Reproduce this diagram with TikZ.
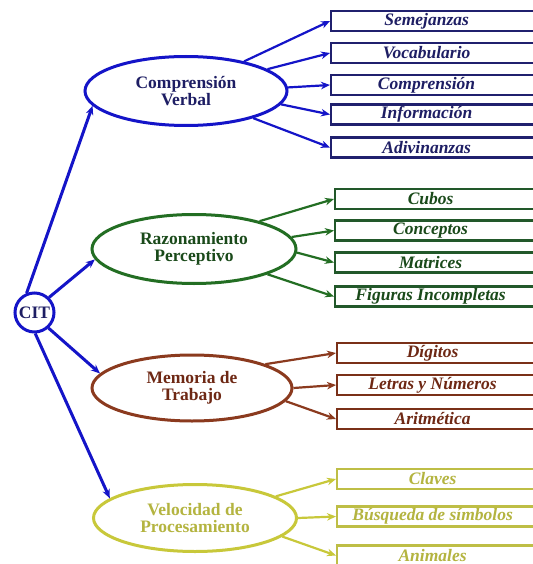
\documentclass[tikz,border=0pt]{standalone}
\usepackage{fontspec}
\setmainfont{Liberation Serif}
\usepackage{xcolor}
\usepackage{tikz}
\usetikzlibrary{positioning,shapes.geometric,arrows.meta}
\definecolor{cvblue}{HTML}{1414C8}
\definecolor{cvink}{HTML}{1E1E64}
\definecolor{cvframe}{HTML}{20206E}
\definecolor{rpgreen}{HTML}{236E23}
\definecolor{rpink}{HTML}{1A4A1A}
\definecolor{rpframe}{HTML}{22582A}
\definecolor{mtbrown}{HTML}{8B3A1E}
\definecolor{mtink}{HTML}{6E2814}
\definecolor{mtframe}{HTML}{7A3018}
\definecolor{vpyellow}{HTML}{C8C83A}
\definecolor{vpink}{HTML}{B4B440}
\definecolor{vpframe}{HTML}{BEBE46}

\begin{document}
\begin{tikzpicture}[
  x=1pt, y=-1pt,
  >={Stealth[length=9pt,width=7.5pt]},
  hub/.style    = {circle, draw=cvblue, line width=3pt, fill=white, minimum size=39pt,
                   inner sep=0pt, text=cvink, font=\fontsize{17.5}{18}\selectfont\bfseries},
  area/.style   = {ellipse, line width=3pt, fill=white, align=center, inner sep=0pt,
                   font=\fontsize{17.5}{17.5}\selectfont\bfseries},
  test/.style   = {rectangle, line width=2.2pt, fill=white, anchor=west, inner sep=0pt,
                   minimum height=20pt, minimum width=215pt,
                   font=\fontsize{17.5}{18}\selectfont\bfseries\itshape,
                   execute at begin node={\hspace*{-24pt}}},
  link/.style   = {->, draw=cvblue, line width=3pt},
  branch/.style = {->, line width=2.2pt},
]
\useasboundingbox[fill=white] (0,0) rectangle (532,564);

% ---- hub --------------------------------------------------------------
\node[hub] (cit) at (34.5,312.5) {CIT};

% ---- areas ------------------------------------------------------------
\node[area, draw=cvblue, text=cvink, minimum width=202pt, minimum height=69pt]
  (cv) at (186,91) {Comprensión\\Verbal};
\node[area, draw=rpgreen, text=rpink, minimum width=204pt, minimum height=69pt]
  (rp) at (194,249) {Razonamiento\\Perceptivo};
\node[area, draw=mtbrown, text=mtink, minimum width=200pt, minimum height=66pt]
  (mt) at (192,388) {Memoria de\\Trabajo};
\node[area, draw=vpyellow, text=vpink, minimum width=203pt, minimum height=67pt]
  (vp) at (195,518) {Velocidad de\\Procesamiento};

% ---- subtests (x = 330 .. 336) ----------------------------------------
\node[test, draw=cvframe, text=cvink] (sem) at (330,21)    {Semejanzas};
\node[test, draw=cvframe, text=cvink] (voc) at (330,53)    {Vocabulario};
\node[test, draw=cvframe, text=cvink] (com) at (330,85)    {Comprensión};
\node[test, draw=cvframe, text=cvink] (inf) at (330,114.5) {Información};
\node[test, draw=cvframe, text=cvink] (adv) at (330,147.5) {Adivinanzas};

\node[test, draw=rpframe, text=rpink] (cub) at (334,199)   {Cubos};
\node[test, draw=rpframe, text=rpink] (con) at (334,230.5) {Conceptos};
\node[test, draw=rpframe, text=rpink] (mat) at (334,262.5) {Matrices};
\node[test, draw=rpframe, text=rpink] (fig) at (334,296.5) {Figuras Incompletas};

\node[test, draw=mtframe, text=mtink] (dig) at (336,353)   {Dígitos};
\node[test, draw=mtframe, text=mtink] (let) at (336,385)   {Letras y Números};
\node[test, draw=mtframe, text=mtink] (ari) at (336,419)   {Aritmética};

\node[test, draw=vpframe, text=vpink] (cla) at (336,479)   {Claves};
\node[test, draw=vpframe, text=vpink] (bus) at (336,516.5) {Búsqueda de símbolos};
\node[test, draw=vpframe, text=vpink] (ani) at (336,555.5) {Animales};

% ---- edges ------------------------------------------------------------
\draw[link] (cit.112) -- (cv.189);
\draw[link] (cit.46)  -- (rp.186);
\draw[link] (cit.-48) -- (mt.171);
\draw[link] (cit.-88) -- (vp.167);

\foreach \a/\t in {27/sem, 15/voc, 2/com, -8/inf, -22/adv}
  \draw[branch, draw=cvblue] (cv.\a) -- (\t.west);
\foreach \a/\t in {23/cub, 7/con, -2/mat, -19/fig}
  \draw[branch, draw=rpgreen] (rp.\a) -- (\t.west);
\foreach \a/\t in {18/dig, 0/let, -8/ari}
  \draw[branch, draw=mtbrown] (mt.\a) -- (\t.west);
\foreach \a/\t in {15/cla, 0/bus, -12/ani}
  \draw[branch, draw=vpyellow] (vp.\a) -- (\t.west);

\end{tikzpicture}
\end{document}
